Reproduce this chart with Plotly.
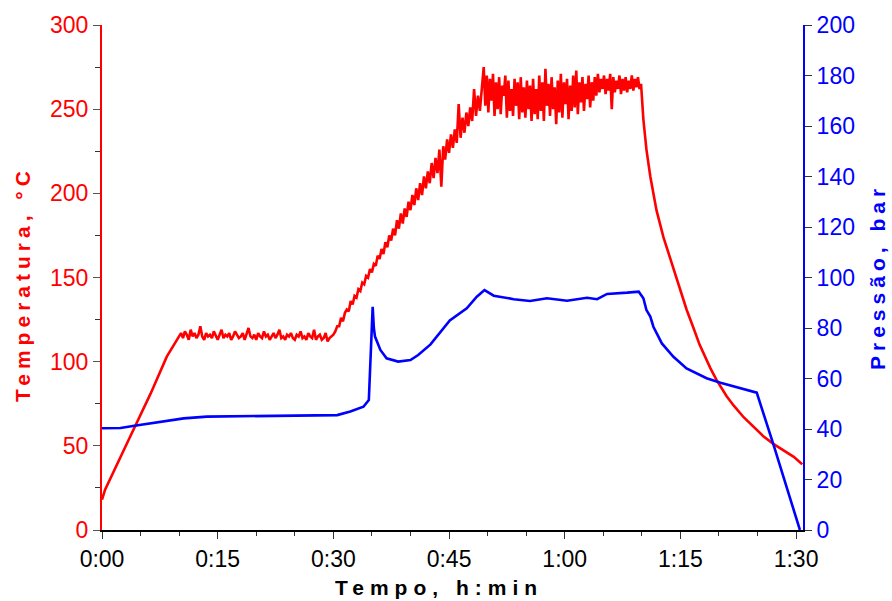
import numpy as np
import plotly.graph_objects as go

# ---------------- data ----------------
# Temperature (°C)
temp_ramp_t = [0.0, 0.4, 3.4, 6.3, 8.4, 9.9]
temp_ramp_v = [18, 24, 53, 81, 103, 114]

# first hold (~115 °C), sampled every 0.25 min starting at 10.0 min
temp_hold1_start = 10.0
temp_hold1_step = 0.25
temp_hold1_v = [115, 117, 114, 118, 116, 113, 119, 115, 117, 114, 116, 121, 115, 113, 117, 115, 116, 114, 118, 115,
                113, 116, 119, 114, 116, 115, 117, 113, 115, 118, 116, 114, 115, 117, 113, 116, 120, 115, 114, 116,
                113, 117, 115, 114, 118, 115, 116, 113, 115, 117, 114, 116, 119, 114, 115, 113, 116, 115, 117, 114,
                113, 116, 115, 118, 114, 115, 113, 117, 115, 114, 119, 113, 115, 116, 113, 114, 117, 112, 114, 115, 116]

# second ramp, sampled every 0.25 min starting at 30.25 min
temp_ramp2_start = 30.25
temp_ramp2_step = 0.25
temp_ramp2_v = [118, 121, 121, 126, 124, 129, 131, 130, 136, 134, 139, 138, 143, 142, 147, 146, 151, 150, 155, 153,
                158, 157, 163, 161, 167, 164, 171, 168, 175, 172, 179, 175, 184, 179, 188, 182, 191, 186, 195, 190,
                199, 193, 203, 196, 206, 199, 210, 203, 213, 206, 218, 209, 221, 212, 226, 204, 228, 220, 232, 224,
                235, 227, 238, 230, 253, 233, 245, 236, 248, 240, 251, 243, 262, 246, 258, 249, 262]

# second hold (~260 °C), sampled every 0.2 min starting at 49.5 min
temp_hold2_start = 49.5
temp_hold2_step = 0.2
temp_hold2_v = [275, 252, 270, 248, 268, 255, 271, 246, 266, 250,
                269, 247, 264, 258, 270, 245, 267, 249, 262, 246,
                268, 252, 266, 244, 269, 248, 263, 245, 267, 250,
                264, 243, 268, 247, 262, 244, 270, 249, 266, 243,
                274, 252, 265, 246, 269, 250, 263, 241, 267, 248,
                271, 245, 266, 253, 268, 244, 264, 249, 270, 251,
                273, 247, 266, 254, 269, 249, 265, 256, 270, 251,
                266, 255, 269, 258, 271, 260, 268, 262, 270, 259,
                268, 261, 271, 250, 269, 260, 267, 262, 270, 259,
                268, 261, 269, 260, 267, 262, 270, 261, 268, 263,
                269, 262, 265]

# cooling
temp_cool_t = [70.2, 70.6, 71.1, 71.9, 72.8, 74.1, 75.0, 75.8, 76.7, 77.5, 78.9, 79.7, 81.0, 81.9,
               83.2, 84.5, 85.8, 87.1, 88.4, 89.7, 90.8]
temp_cool_v = [244, 226, 210, 190, 174, 155, 142, 131, 120, 110, 96, 89, 79.5, 74,
               67, 61, 55.5, 51, 47, 43.5, 39]

# Pressure (bar)
pres_t = [0, 2.4, 4.0, 6.0, 8.0, 10.6, 13.6, 20.0, 25.7, 30.5, 32.2, 33.9, 34.6, 34.7, 34.9,
          35.1, 35.25, 35.4, 36.1, 36.9, 38.4, 40.0, 41.0, 42.6, 45.1, 47.3, 48.6, 49.6, 50.8, 53.4,
          55.5, 57.7, 60.3, 62.9, 64.2, 65.5, 68.1, 69.6, 70.2, 70.6, 71.1, 71.5, 72.6, 74.1, 75.8,
          78.4, 80.2, 82.7, 84.9, 87.1, 90.5]
pres_v = [40.3, 40.4, 41.2, 42.2, 43.2, 44.2, 44.9, 45.2, 45.3, 45.5, 46.9, 48.8, 51.5, 59.4, 77.9,
          88.4, 80.0, 76.6, 71.3, 68.0, 66.7, 67.3, 69.3, 73.5, 83.0, 87.8, 92.4, 95.0, 92.8, 91.4,
          90.7, 91.8, 90.8, 92.0, 91.4, 93.5, 94.0, 94.4, 91.8, 87.1, 84.5, 80.5, 73.9, 68.6, 64.0,
          60.1, 58.3, 56.1, 54.4, 33.5, 0.0]

x_tick_vals = [0, 15, 30, 45, 60, 75, 90]
x_tick_text = ["0:00", "0:15", "0:30", "0:45", "1:00", "1:15", "1:30"]
x_minor_vals = [5, 10, 20, 25, 35, 40, 50, 55, 65, 70, 80, 85]

x_title = "Tempo, h:min"
y1_title = "Temperatura, °C"
y2_title = "Pressão, bar"

# ---------------- assemble series ----------------
def sampled(start, step, vals):
    return list(start + step * np.arange(len(vals)))

temp_t = (temp_ramp_t + sampled(temp_hold1_start, temp_hold1_step, temp_hold1_v)
          + sampled(temp_ramp2_start, temp_ramp2_step, temp_ramp2_v)
          + sampled(temp_hold2_start, temp_hold2_step, temp_hold2_v) + temp_cool_t)
temp_v = temp_ramp_v + temp_hold1_v + temp_ramp2_v + temp_hold2_v + temp_cool_v

RED = "#FF0000"
BLUE = "#0000FF"
FONT = "Liberation Sans, Arial, sans-serif"
TICK_SIZE = 23

fig = go.Figure()
fig.add_trace(go.Scatter(x=temp_t, y=temp_v, mode="lines", line=dict(color=RED, width=2.6),
                         yaxis="y", showlegend=False))
fig.add_trace(go.Scatter(x=pres_t, y=pres_v, mode="lines", line=dict(color=BLUE, width=2.6),
                         yaxis="y2", showlegend=False))

L, R, T, B = 102, 89, 25, 71
W, H = 892, 601
pw, ph = W - L - R, H - T - B

def px(xp):
    return (xp - L) / pw

def py(yp):
    return (H - B - yp) / ph

fig.update_layout(
    width=W, height=H, autosize=False,
    margin=dict(l=L, r=R, t=T, b=B, pad=0),
    paper_bgcolor="white", plot_bgcolor="white",
    font=dict(family=FONT, size=TICK_SIZE, color="black"),
    xaxis=dict(range=[0, 90.9], tickmode="array", tickvals=x_tick_vals, ticktext=x_tick_text,
               ticks="outside", ticklen=7, tickwidth=1, tickcolor="#333333",
               minor=dict(tickmode="array", tickvals=x_minor_vals, ticks="outside", ticklen=4,
                          tickcolor="#333333", tickwidth=1),
               showline=True, linecolor="black", linewidth=2, showgrid=False, zeroline=False,
               tickfont=dict(family=FONT, size=TICK_SIZE, color="black")),
    yaxis=dict(range=[0, 300], tickmode="linear", tick0=0, dtick=50,
               ticks="outside", ticklen=7, tickwidth=1, tickcolor="#555555",
               minor=dict(dtick=25, ticks="outside", ticklen=5, tickcolor="#333333", tickwidth=1),
               showline=True, linecolor=RED, linewidth=2, showgrid=False, zeroline=False,
               tickfont=dict(family=FONT, size=TICK_SIZE, color=RED)),
    yaxis2=dict(range=[0, 200], tickmode="linear", tick0=0, dtick=20, overlaying="y", side="right",
                ticks="outside", ticklen=7, tickwidth=1, tickcolor="#333333",
                showline=True, linecolor=BLUE, linewidth=2, showgrid=False, zeroline=False,
                tickfont=dict(family=FONT, size=TICK_SIZE, color=BLUE)),
    showlegend=False,
)

fig.add_annotation(text='<span style="letter-spacing:6px">' + x_title + '</span>',
                   xref="paper", yref="paper", x=px(439), y=py(587),
                   xanchor="center", yanchor="middle", showarrow=False,
                   font=dict(family=FONT, size=21, color="black", weight=700))
fig.add_annotation(text='<span style="letter-spacing:5px">' + y1_title + '</span>',
                   xref="paper", yref="paper", x=px(22), y=py(284), textangle=-90,
                   xanchor="center", yanchor="middle", showarrow=False,
                   font=dict(family=FONT, size=21, color=RED, weight=700))
fig.add_annotation(text='<span style="letter-spacing:5px">' + y2_title + '</span>',
                   xref="paper", yref="paper", x=px(877), y=py(277), textangle=-90,
                   xanchor="center", yanchor="middle", showarrow=False,
                   font=dict(family=FONT, size=21, color=BLUE, weight=700))

fig.write_html("out.html")
